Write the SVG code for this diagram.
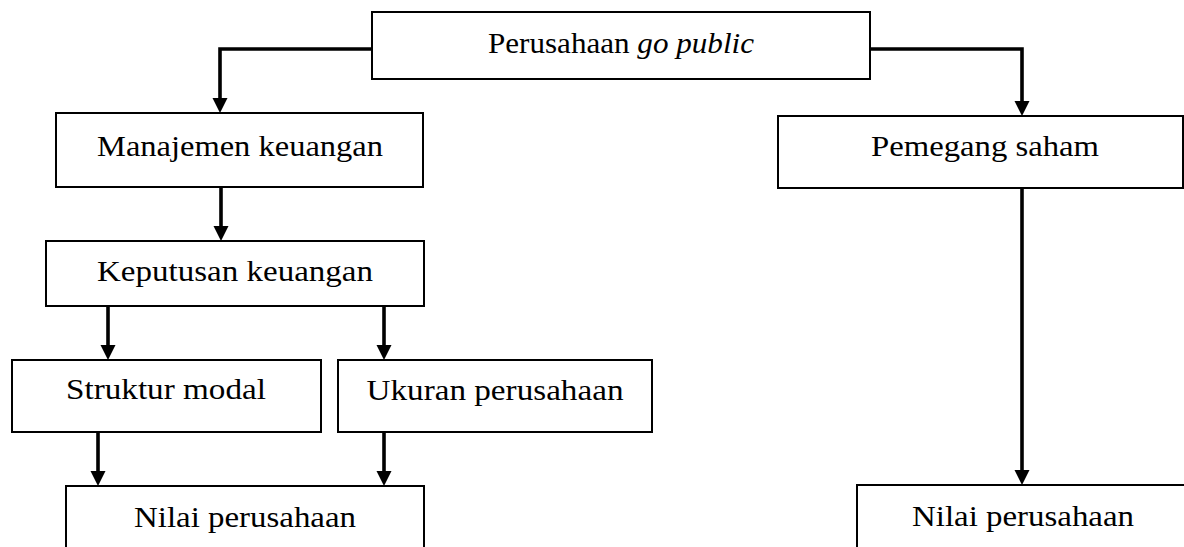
<svg xmlns="http://www.w3.org/2000/svg" width="1184" height="547" viewBox="0 0 1184 547">
<style>
.box{fill:#fff;stroke:#000;stroke-width:2}
.lbl{font-family:"Liberation Serif","DejaVu Serif",serif;font-size:29px;fill:#000;text-anchor:middle}
.con{fill:none;stroke:#000;stroke-width:3.6}
</style>
<defs>
<marker id="ah" markerUnits="userSpaceOnUse" markerWidth="17" markerHeight="16" refX="7" refY="7.5" orient="auto">
<path d="M0,0 L15,7.5 L0,15 z" fill="#000"/>
</marker>
</defs>
<rect width="1184" height="547" fill="#fff"/>
<g id="connectors">
<path class="con" d="M372,49 H220 V105" marker-end="url(#ah)"/>
<path class="con" d="M870,49 H1022 V108" marker-end="url(#ah)"/>
<path class="con" d="M221,187 V233" marker-end="url(#ah)"/>
<path class="con" d="M108,306 V352" marker-end="url(#ah)"/>
<path class="con" d="M384,306 V352" marker-end="url(#ah)"/>
<path class="con" d="M98,432 V478" marker-end="url(#ah)"/>
<path class="con" d="M384,432 V478" marker-end="url(#ah)"/>
<path class="con" d="M1022,188 V477" marker-end="url(#ah)"/>
</g>
<g id="n-top">
<rect class="box" x="372" y="12" width="498" height="67"/>
<text class="lbl" x="621" y="53" textLength="266" lengthAdjust="spacingAndGlyphs">Perusahaan <tspan font-style="italic">go public</tspan></text>
</g>
<g id="n-manajemen">
<rect class="box" x="56" y="113" width="367" height="74"/>
<text class="lbl" x="240" y="156" textLength="286" lengthAdjust="spacingAndGlyphs">Manajemen keuangan</text>
</g>
<g id="n-pemegang">
<rect class="box" x="778" y="116" width="405" height="72"/>
<text class="lbl" x="985" y="156" textLength="228" lengthAdjust="spacingAndGlyphs">Pemegang saham</text>
</g>
<g id="n-keputusan">
<rect class="box" x="46" y="241" width="378" height="65"/>
<text class="lbl" x="235" y="281" textLength="276" lengthAdjust="spacingAndGlyphs">Keputusan keuangan</text>
</g>
<g id="n-struktur">
<rect class="box" x="12" y="360" width="309" height="72"/>
<text class="lbl" x="166" y="399" textLength="200" lengthAdjust="spacingAndGlyphs">Struktur modal</text>
</g>
<g id="n-ukuran">
<rect class="box" x="338" y="360" width="314" height="72"/>
<text class="lbl" x="495" y="400" textLength="257" lengthAdjust="spacingAndGlyphs">Ukuran perusahaan</text>
</g>
<g id="n-nilai-left">
<rect class="box" x="66" y="486" width="358" height="75"/>
<text class="lbl" x="245" y="527" textLength="222" lengthAdjust="spacingAndGlyphs">Nilai perusahaan</text>
</g>
<g id="n-nilai-right">
<rect class="box" x="857" y="485" width="340" height="75"/>
<text class="lbl" x="1023" y="526" textLength="222" lengthAdjust="spacingAndGlyphs">Nilai perusahaan</text>
</g>
</svg>
